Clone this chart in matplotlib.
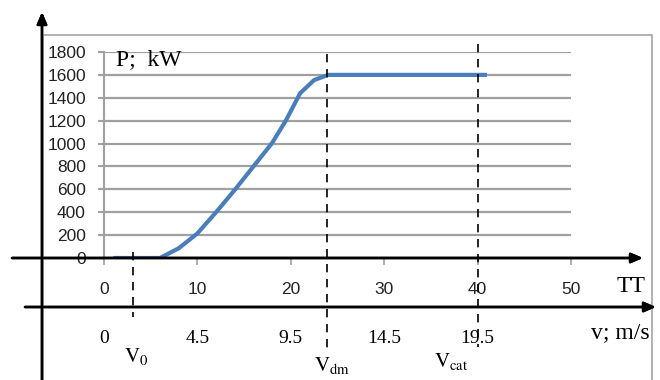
import matplotlib
matplotlib.use("Agg")
import matplotlib.pyplot as plt
from matplotlib.patches import Rectangle

# data
tt = [1, 6, 8, 10, 12, 14, 16, 18, 19.5, 21, 22.5, 24, 41]
power = [0, 0, 85, 215, 400, 595, 800, 1005, 1205, 1440, 1555, 1600, 1600]
tt_ticks = [0, 10, 20, 30, 40, 50]
p_ticks = [0, 200, 400, 600, 800, 1000, 1200, 1400, 1600, 1800]
v_labels = ['0', '4.5', '9.5', '14.5', '19.5']
v_marks = [3.1, 23.9, 40.0]
v_names = [r'$\mathrm{V_0}$', r'$\mathrm{V_{dm}}$', r'$\mathrm{V_{cat}}$']

plt.rcParams['mathtext.fontset'] = 'stix'
W, H = 660, 380
serif = 'Liberation Serif'
sans = ['Liberation Sans', 'DejaVu Sans']


def fp(x, y):
    # pixel position (from top-left) -> figure fraction
    return (x / W, (H - y) / H)


fig = plt.figure(figsize=(W / 100, H / 100), dpi=100)
fig.patch.set_facecolor('white')

# outer gray frame
fig.patches.append(Rectangle(fp(43, 400), 609 / W, 365 / H, transform=fig.transFigure,
                             fill=False, edgecolor='#a6a6a6', lw=1.2))

ax = fig.add_axes([104 / W, 122 / H, 467 / W, 206 / H])
ax.set_xlim(0, 50)
ax.set_ylim(0, 1800)
ax.set_facecolor('none')
for s in ['top', 'right', 'bottom']:
    ax.spines[s].set_visible(False)
ax.spines['left'].set_color('#a0a0a0')
ax.spines['left'].set_linewidth(1.5)

ax.set_yticks(p_ticks)
ax.set_xticks(tt_ticks)
ax.grid(axis='y', color='#a0a0a0', lw=1.6)
ax.tick_params(axis='y', length=4, color='#a0a0a0', width=1.5, pad=9, labelsize=12.5)
ax.tick_params(axis='x', length=5, color='#a0a0a0', width=1.2, pad=12, labelsize=12.5)
for lab in ax.get_xticklabels() + ax.get_yticklabels():
    lab.set_family(sans)
    lab.set_color('#222222')

ax.plot(tt, power, color='#4a7ebb', lw=3, solid_capstyle='butt', zorder=3)

# dashed speed markers
trans = ax.get_xaxis_transform()
spans = [(0.03, -0.286), (0.99, -0.455), (1.04, -0.43)]
for x, (y0, y1) in zip(v_marks, spans):
    ax.plot([x, x], [y0, y1], transform=trans, color='black', lw=1.2,
            ls=(0, (5, 4)), clip_on=False, zorder=4)

# wind speed scale labels under the TT ticks
for x, lab in zip(tt_ticks, v_labels):
    ax.text(x, -0.39, lab, transform=trans, ha='center', va='center',
            family=serif, fontsize=14)

name_pos = [(3.4, -0.48), (24.4, -0.52), (37.2, -0.50)]
for (x, y), name in zip(name_pos, v_names):
    ax.text(x, y, name, transform=trans, ha='center', va='center', fontsize=15)

ax.text(0.025, 0.965, 'P;  kW', transform=ax.transAxes, ha='left', va='center',
        family=serif, fontsize=17)

# black arrows
arrow = dict(arrowstyle='-|>,head_length=0.7,head_width=0.3', lw=1.8,
             color='black', shrinkA=0, shrinkB=0)
fig.add_artist(plt.annotate('', xy=fp(643, 258), xytext=fp(12, 258),
                            xycoords='figure fraction', arrowprops=arrow))
fig.add_artist(plt.annotate('', xy=fp(656, 307), xytext=fp(25, 307),
                            xycoords='figure fraction', arrowprops=arrow))
fig.add_artist(plt.annotate('', xy=fp(42, 12), xytext=fp(42, 385),
                            xycoords='figure fraction', arrowprops=arrow))

fig.text(*fp(631, 287), 'TT', ha='center', va='center', family=serif, fontsize=17)
fig.text(*fp(650, 333), 'v; m/s', ha='right', va='center', family=serif, fontsize=17)

fig.savefig('out.png', dpi=100)
